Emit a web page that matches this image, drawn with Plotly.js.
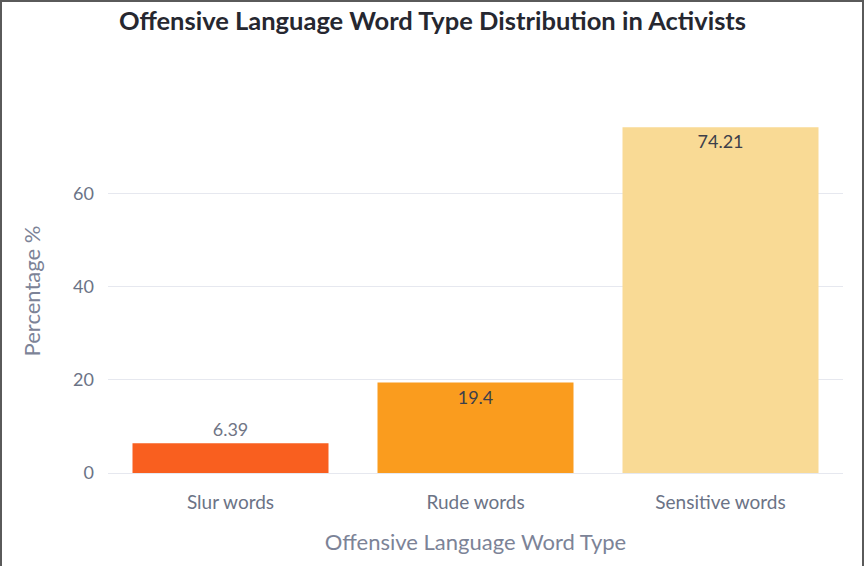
<!DOCTYPE html>
<html>
<head>
<meta charset="utf-8">
<script src="https://cdn.plot.ly/plotly-3.0.1.min.js"></script>
<style>
  html, body { margin: 0; padding: 0; background: #ffffff; }
  #frame { position: absolute; left: 0; top: 0; width: 860px; height: 566px;
           border-left: 2px solid #5a5a5a; border-top: 2px solid #5a5a5a; border-right: 2px solid #5a5a5a; }
  #chart { position: absolute; left: 0; top: 0; width: 865px; height: 566px; }
</style>
</head>
<body>
<div id="chart"></div>
<div id="frame"></div>
<script>
const categories = ["Slur words", "Rude words", "Sensitive words"];
const percentages = [6.39, 19.4, 74.21];
const barColors = ["#F95F1F", "#FA9C1E", "#F9DA95"];
const labelPositions = ["outside", "inside", "inside"];
const chartTitle = "Offensive Language Word Type Distribution in Activists";
const xTitle = "Offensive Language Word Type";
const yTitle = "Percentage %";

const FONT = "Lato, 'Source Sans Pro', sans-serif";

const trace = {
  type: "bar",
  x: categories,
  y: percentages,
  text: percentages.map(v => String(v)),
  textposition: labelPositions,
  insidetextanchor: "end",
  insidetextfont: { family: FONT, size: 18, color: "#3d3f4a" },
  outsidetextfont: { family: FONT, size: 18, color: "#707585" },
  marker: { color: barColors },
  hoverinfo: "x+y",
  cliponaxis: false
};

const layout = {
  width: 865,
  height: 566,
  margin: { l: 108, r: 22, t: 109, b: 93 },
  paper_bgcolor: "#ffffff",
  plot_bgcolor: "#ffffff",
  bargap: 0.2,
  showlegend: false,
  font: { family: FONT, color: "#6b7386" },
  title: {
    text: "<b>" + chartTitle + "</b>",
    font: { family: FONT, size: 25.5, color: "#262730" },
    x: 0.5, xanchor: "center",
    y: 0.963, yanchor: "middle", yref: "container"
  },
  xaxis: {
    title: { text: xTitle, font: { family: FONT, size: 22, color: "#7c8397" }, standoff: 22 },
    tickfont: { family: FONT, size: 19, color: "#6b7386" },
    showgrid: false,
    showline: false,
    ticks: "",
    ticklabelstandoff: 16,
    automargin: false
  },
  yaxis: {
    title: { text: yTitle, font: { family: FONT, size: 22, color: "#7c8397" }, standoff: 26 },
    tickfont: { family: FONT, size: 18, color: "#6b7386" },
    range: [0, 78.1],
    tickvals: [0, 20, 40, 60],
    gridcolor: "#e6e8ef",
    gridwidth: 1,
    zeroline: true,
    zerolinecolor: "#e6e8ef",
    zerolinewidth: 1,
    showline: false,
    ticks: "",
    ticklabelstandoff: 13,
    automargin: false
  }
};

Plotly.newPlot("chart", [trace], layout, { displayModeBar: false, staticPlot: true });
</script>
</body>
</html>
